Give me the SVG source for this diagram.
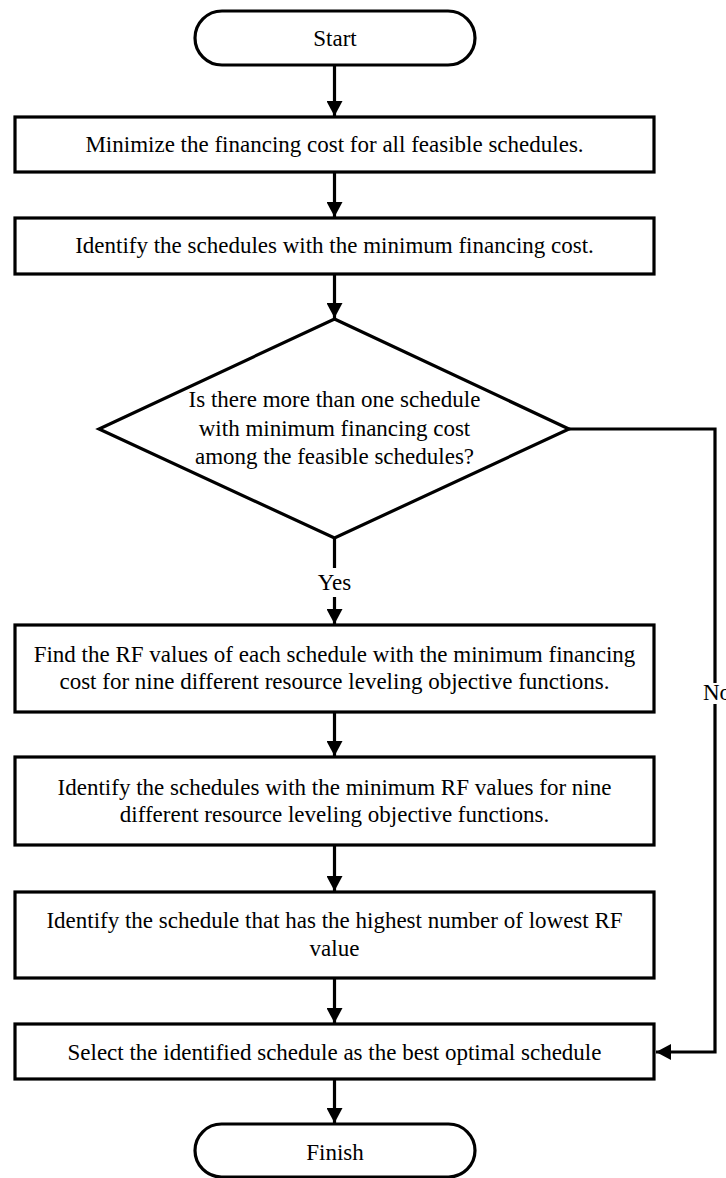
<svg xmlns="http://www.w3.org/2000/svg" width="726" height="1178" viewBox="0 0 726 1178">
  <defs>
    <marker id="arr" markerUnits="userSpaceOnUse" markerWidth="16" markerHeight="16" refX="15" refY="8" orient="auto">
      <path d="M0,0 L15,8 L0,16 Z" fill="#000"/>
    </marker>
    <style>
      .shape { fill: #fff; stroke: #000; stroke-width: 3.2; }
      .conn { fill: none; stroke: #000; stroke-width: 3.2; }
      .t { font-family: "Liberation Serif", "Times New Roman", serif; font-size: 23px; fill: #000; text-anchor: middle; }
      .lbl { font-family: "Liberation Serif", "Times New Roman", serif; font-size: 23px; fill: #000; }
    </style>
  </defs>
  <rect x="0" y="0" width="726" height="1178" fill="#fff"/>

  <g id="connectors">
    <line class="conn" x1="334.5" y1="65" x2="334.5" y2="116" marker-end="url(#arr)"/>
    <line class="conn" x1="334.5" y1="172" x2="334.5" y2="217" marker-end="url(#arr)"/>
    <line class="conn" x1="334.5" y1="274" x2="334.5" y2="318" marker-end="url(#arr)"/>
    <line class="conn" x1="334.5" y1="538" x2="334.5" y2="624" marker-end="url(#arr)"/>
    <line class="conn" x1="334.5" y1="712" x2="334.5" y2="756" marker-end="url(#arr)"/>
    <line class="conn" x1="334.5" y1="845" x2="334.5" y2="891" marker-end="url(#arr)"/>
    <line class="conn" x1="334.5" y1="978" x2="334.5" y2="1023" marker-end="url(#arr)"/>
    <line class="conn" x1="334.5" y1="1079" x2="334.5" y2="1123" marker-end="url(#arr)"/>
    <polyline class="conn" points="569,429 715,429 715,1052 656,1052" marker-end="url(#arr)"/>
    <g id="label-yes">
      <rect x="317" y="568" width="35" height="29" fill="#fff"/>
      <text class="t" x="334.5" y="590">Yes</text>
    </g>
    <g id="label-no">
      <rect x="702" y="683" width="30" height="21" fill="#fff"/>
      <text class="lbl" x="703" y="700">No</text>
    </g>
  </g>

  <g id="start">
    <rect class="shape" x="195" y="11" width="280" height="54" rx="27" ry="27"/>
    <text class="t" x="335" y="46">Start</text>
  </g>

  <g id="minimize">
    <rect class="shape" x="15" y="117" width="639" height="55"/>
    <text class="t" x="334.5" y="152">Minimize the financing cost for all feasible schedules.</text>
  </g>

  <g id="identify-min-cost">
    <rect class="shape" x="15" y="218" width="639" height="56"/>
    <text class="t" x="334.5" y="253">Identify the schedules with the minimum financing cost.</text>
  </g>

  <g id="decision">
    <polygon class="shape" points="334.5,319 569,429 334.5,538 99,429"/>
    <text class="t" x="334.5" y="407">Is there more than one schedule</text>
    <text class="t" x="334.5" y="436">with minimum financing cost</text>
    <text class="t" x="334.5" y="464">among the feasible schedules?</text>
  </g>

  <g id="find-rf">
    <rect class="shape" x="15" y="625" width="639" height="87"/>
    <text class="t" x="334.5" y="662">Find the RF values of each schedule with the minimum financing</text>
    <text class="t" x="334.5" y="689">cost for nine different resource leveling objective functions.</text>
  </g>

  <g id="identify-min-rf">
    <rect class="shape" x="15" y="757" width="639" height="88"/>
    <text class="t" x="334.5" y="795">Identify the schedules with the minimum RF values for nine</text>
    <text class="t" x="334.5" y="822">different resource leveling objective functions.</text>
  </g>

  <g id="identify-highest">
    <rect class="shape" x="15" y="892" width="639" height="86"/>
    <text class="t" x="334.5" y="928">Identify the schedule that has the highest number of lowest RF</text>
    <text class="t" x="334.5" y="956">value</text>
  </g>

  <g id="select">
    <rect class="shape" x="15" y="1024" width="639" height="55"/>
    <text class="t" x="334.5" y="1060">Select the identified schedule as the best optimal schedule</text>
  </g>

  <g id="finish">
    <rect class="shape" x="195" y="1124" width="280" height="53" rx="26.5" ry="26.5"/>
    <text class="t" x="335" y="1160">Finish</text>
  </g>
</svg>
